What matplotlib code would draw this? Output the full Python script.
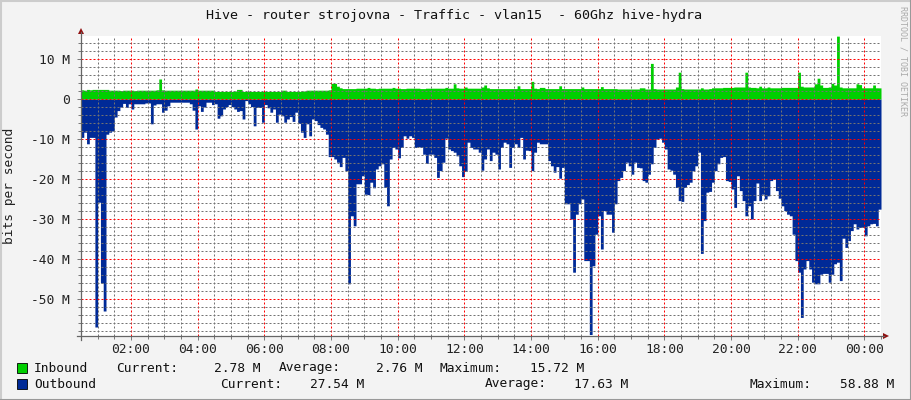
import numpy as np
import matplotlib
matplotlib.use("Agg")
import matplotlib.pyplot as plt
from matplotlib.ticker import MultipleLocator, FuncFormatter
from matplotlib.patches import Polygon, Rectangle
from matplotlib.lines import Line2D

W, H = 911, 400

# 5 minute averages, Mbit/s, starting 00:30
start_hour = 0.5
step_hours = 5 / 60

inbound = [
    2.3, 2.2, 2.4, 2.3, 2.4, 2.4, 2.4, 2.4, 2.4, 2.4, 2.2, 2.2,
    2.2, 2.2, 2.1, 2.2, 2.2, 2.2, 2.2, 2.1, 2.2, 2.2, 2.2, 2.2,
    2.2, 2.2, 2.2, 2.3, 5.0, 2.3, 2.2, 2.2, 2.2, 2.2, 2.2, 2.2,
    2.2, 2.2, 2.2, 2.2, 2.2, 2.5, 2.2, 2.2, 2.2, 2.2, 2.2, 2.2,
    1.9, 1.9, 1.9, 1.9, 1.9, 1.9, 1.9, 2.0, 2.4, 2.4, 1.9, 1.9,
    1.9, 1.9, 1.9, 1.9, 1.9, 1.9, 1.9, 1.9, 1.9, 1.9, 1.9, 1.9,
    2.2, 2.2, 1.9, 1.9, 1.9, 1.9, 1.9, 2.0, 2.0, 2.2, 2.2, 2.2,
    2.2, 2.2, 2.2, 2.2, 2.2, 2.3, 3.9, 3.9, 3.2, 2.8, 2.6, 2.6,
    2.6, 2.6, 2.6, 2.7, 2.7, 2.7, 2.7, 2.9, 2.7, 2.7, 2.6, 2.7,
    2.7, 2.7, 2.7, 2.7, 2.9, 2.7, 2.7, 2.6, 2.6, 2.7, 2.7, 2.7,
    2.7, 2.7, 2.6, 2.6, 2.7, 2.7, 2.7, 2.7, 2.7, 2.7, 2.7, 2.9,
    2.7, 2.7, 3.8, 2.8, 2.7, 2.7, 3.0, 2.7, 2.7, 2.7, 2.7, 2.7,
    3.0, 3.5, 2.8, 2.6, 2.6, 2.6, 2.6, 2.6, 2.6, 2.6, 2.6, 2.6,
    2.6, 3.3, 2.6, 2.6, 2.6, 2.6, 4.4, 2.7, 2.6, 2.9, 2.9, 2.6,
    2.6, 2.6, 2.6, 2.6, 3.3, 2.6, 2.6, 2.6, 2.6, 2.6, 2.6, 2.6,
    3.0, 2.6, 2.6, 2.6, 2.6, 2.6, 2.6, 3.1, 2.6, 2.6, 2.6, 2.6,
    2.6, 2.5, 2.5, 2.5, 2.5, 2.5, 2.5, 2.5, 2.5, 2.8, 2.8, 2.5,
    2.5, 8.9, 2.6, 2.5, 2.5, 2.5, 2.5, 2.5, 2.5, 2.5, 3.0, 6.7,
    2.6, 2.5, 2.5, 2.5, 2.5, 2.5, 2.5, 2.8, 2.5, 2.5, 2.6, 2.8,
    2.8, 2.8, 2.8, 2.9, 2.9, 2.9, 2.9, 3.0, 3.0, 3.0, 3.0, 6.7,
    3.0, 2.9, 2.9, 2.8, 3.2, 2.8, 2.8, 3.0, 2.8, 2.8, 2.8, 2.8,
    2.9, 2.9, 2.9, 2.9, 2.9, 2.9, 6.7, 3.2, 3.0, 3.0, 3.0, 3.0,
    3.8, 5.2, 3.5, 2.9, 2.9, 3.0, 3.9, 3.5, 15.72, 3.0, 2.8, 2.8,
    2.8, 2.8, 2.8, 3.8, 3.6, 2.8, 2.8, 2.8, 2.8, 3.5, 2.8, 2.78,
]

outbound = [
    9.6, 8.3, 11.2, 9.6, 9.6, 57.0, 25.8, 46.0, 53.0, 8.8, 8.3, 8.0,
    4.5, 2.9, 2.0, 1.1, 2.1, 1.2, 2.5, 1.2, 1.2, 1.2, 1.2, 1.0,
    1.0, 6.2, 1.5, 1.2, 1.2, 3.3, 2.8, 1.7, 0.8, 0.8, 0.8, 0.8,
    0.8, 0.8, 0.8, 1.2, 2.8, 7.5, 1.7, 3.1, 2.0, 0.8, 0.8, 1.4,
    1.2, 4.8, 4.2, 2.5, 1.9, 1.4, 1.9, 2.5, 3.1, 2.9, 5.0, 0.4,
    1.2, 1.9, 6.7, 2.1, 2.1, 5.8, 1.4, 2.2, 3.3, 2.5, 5.8, 3.8,
    4.2, 5.8, 5.0, 4.4, 5.6, 3.3, 6.1, 8.3, 9.6, 6.2, 9.2, 5.0,
    5.4, 6.4, 7.1, 7.5, 8.8, 14.4, 14.4, 15.0, 15.8, 16.9, 14.6, 17.9,
    46.2, 29.2, 31.7, 21.2, 21.2, 19.2, 23.8, 23.9, 20.8, 22.2, 17.5, 16.7,
    16.2, 22.1, 26.7, 15.0, 12.1, 12.5, 14.7, 12.1, 9.2, 9.8, 9.2, 9.6,
    12.1, 11.9, 12.1, 13.8, 16.1, 13.8, 13.8, 14.6, 19.6, 17.9, 15.8, 9.8,
    12.5, 12.9, 13.3, 14.2, 16.7, 19.4, 18.1, 10.8, 12.1, 12.5, 12.5, 13.3,
    17.8, 15.0, 12.5, 15.4, 13.3, 13.8, 17.5, 12.1, 10.8, 11.2, 17.1, 12.1,
    11.2, 12.1, 9.6, 15.0, 12.8, 12.9, 17.9, 13.3, 10.8, 11.2, 11.2, 11.2,
    15.4, 16.7, 18.3, 16.9, 19.8, 17.1, 26.2, 26.2, 30.0, 43.3, 28.8, 26.2,
    25.0, 40.4, 40.4, 58.88, 41.7, 33.8, 29.2, 37.5, 27.9, 28.8, 28.8, 33.3,
    26.2, 20.4, 19.6, 17.9, 15.8, 16.7, 18.8, 15.8, 17.1, 17.2, 20.4, 20.8,
    18.8, 16.2, 12.1, 10.0, 9.8, 10.8, 12.5, 17.5, 17.8, 18.8, 22.1, 25.4,
    25.6, 22.1, 21.4, 20.8, 17.9, 16.7, 13.3, 38.6, 30.4, 23.3, 23.1, 20.8,
    17.9, 16.2, 14.6, 14.4, 20.4, 20.6, 22.5, 27.1, 19.2, 22.9, 25.4, 29.2,
    26.7, 30.0, 25.4, 21.0, 25.4, 23.8, 25.0, 24.2, 20.4, 20.0, 22.9, 24.8,
    26.7, 27.9, 28.8, 29.2, 33.8, 40.4, 43.3, 54.6, 42.5, 40.4, 42.5, 45.8,
    46.2, 46.2, 43.8, 43.6, 43.6, 45.8, 43.8, 41.2, 40.8, 45.4, 34.8, 37.1,
    35.4, 32.9, 31.2, 32.5, 32.1, 32.1, 34.2, 31.7, 31.2, 31.1, 31.7, 27.54,
]

legend_rows = [
    ("Inbound", [("Current:", 116, "2.78 M", 260),
                 ("Average:", 279, "2.76 M", 422),
                 ("Maximum:", 440, "15.72 M", 584)]),
    ("Outbound", [("Current:", 220, "27.54 M", 364),
                  ("Average:", 485, "17.63 M", 628),
                  ("Maximum:", 750, "58.88 M", 894)]),
]

title = "Hive - router strojovna - Traffic - vlan15  - 60Ghz hive-hydra"

GREEN = "#00cf00"
BLUE = "#002a97"
MONO = "DejaVu Sans Mono"
FS = 9.3


def fx(x):
    return x / W


def fy(y):
    return 1 - y / H


fig = plt.figure(figsize=(W / 100, H / 100), dpi=100, facecolor="#f3f3f3")
ax = fig.add_axes([fx(81), fy(336), 800 / W, 300 / H])
ax.set_facecolor("white")

edges = start_hour + step_hours * np.arange(len(outbound) + 1)
out = -np.append(outbound, outbound[-1])
inn = np.append(inbound, inbound[-1])
ax.fill_between(edges, out, 0, step="post", color=BLUE, lw=0)
ax.fill_between(edges, 0, inn, step="post", color=GREEN, lw=0)

ax.set_xlim(0.5, 24.5)
ax.set_ylim(-59.25, 15.75)

ax.xaxis.set_major_locator(MultipleLocator(2))
ax.xaxis.set_minor_locator(MultipleLocator(0.5))
ax.yaxis.set_major_locator(MultipleLocator(10))
ax.yaxis.set_minor_locator(MultipleLocator(2))
ax.xaxis.set_major_formatter(FuncFormatter(lambda v, p: "%02d:00" % (int(round(v)) % 24)))
ax.yaxis.set_major_formatter(FuncFormatter(lambda v, p: "0" if abs(v) < 1e-9 else "%d M" % round(v)))

ax.set_axisbelow(False)
ax.grid(which="major", color=(1, 0, 0, 0.3), linestyle=(0, (2, 2)), lw=0.72)
ax.grid(which="minor", color=(0.45, 0.45, 0.45, 0.26), linestyle=(0, (2, 2)), lw=0.72)

for s in ax.spines.values():
    s.set_visible(False)
ax.tick_params(which="both", direction="out", color="#777777", width=0.7,
               labelsize=FS, labelfontfamily=MONO, labelcolor="#222222")
ax.tick_params(which="major", length=3)
ax.tick_params(which="minor", length=2)
ax.tick_params(axis="x", pad=2)
ax.tick_params(axis="y", pad=5)

# axis lines with arrow heads
fig.add_artist(Line2D([fx(81), fx(81)], [fy(340), fy(32)], color="#666666", lw=0.9))
fig.add_artist(Line2D([fx(77), fx(884)], [fy(336), fy(336)], color="#666666", lw=0.9))
fig.add_artist(Polygon([(fx(78), fy(34)), (fx(84), fy(34)), (fx(81), fy(28))],
                       closed=True, color="#901010", lw=0))
fig.add_artist(Polygon([(fx(883), fy(333)), (fx(883), fy(339)), (fx(889), fy(336))],
                       closed=True, color="#901010", lw=0))

fig.text(fx(454), fy(15), title, ha="center", va="center",
         fontsize=9.6, family=MONO, color="#111111")
fig.text(fx(10), fy(186), "bits per second", rotation=90, ha="center", va="center",
         fontsize=FS, family=MONO, color="#222222")
fig.text(fx(903), fy(6), "RRDTOOL / TOBI OETIKER", rotation=270, ha="center", va="top",
         fontsize=6, family=MONO, color="#aaaaaa")

for row, (name, items) in enumerate(legend_rows):
    y = 368 + 16 * row
    color = GREEN if row == 0 else BLUE
    fig.add_artist(Rectangle((fx(17), fy(y + 5)), 10 / W, 10 / H, facecolor=color,
                             edgecolor="#000000", lw=0.6))
    fig.text(fx(34), fy(y), name, ha="left", va="center", fontsize=FS,
             family=MONO, color="#111111")
    for label, lx, value, vx in items:
        fig.text(fx(lx), fy(y), label, ha="left", va="center", fontsize=FS,
                 family=MONO, color="#111111")
        fig.text(fx(vx), fy(y), value, ha="right", va="center", fontsize=FS,
                 family=MONO, color="#111111")

# frame around the image
fig.add_artist(Line2D([0, 1], [fy(0.5), fy(0.5)], color="#cccccc", lw=1.5))
fig.add_artist(Line2D([fx(0.5), fx(0.5)], [0, 1], color="#cccccc", lw=1.5))
fig.add_artist(Line2D([0, 1], [fy(399.5), fy(399.5)], color="#999999", lw=1.5))
fig.add_artist(Line2D([fx(910.5), fx(910.5)], [0, 1], color="#999999", lw=1.5))

fig.savefig("out.png", dpi=100, facecolor=fig.get_facecolor())
